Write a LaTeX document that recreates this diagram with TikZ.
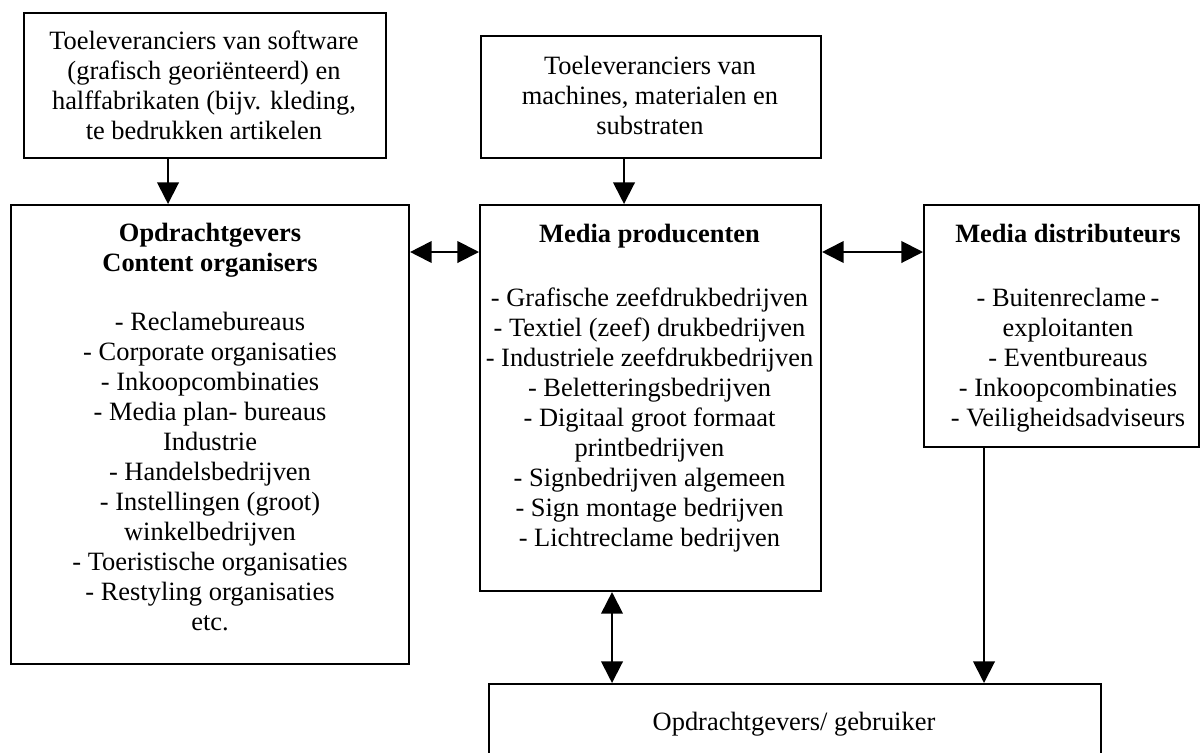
\documentclass[tikz,border=0pt]{standalone}
\usepackage{fontspec}
\setmainfont{Liberation Serif}
\usetikzlibrary{positioning,arrows.meta}

\begin{document}
\begin{tikzpicture}[x=0.025cm, y=-0.025cm,
    box/.style={draw=black, line width=1.4pt, inner sep=0pt, anchor=north west},
    boxtext/.style={anchor=north, align=center, inner sep=0pt, text=black, font=\fontsize{18.8}{21.34}\selectfont},
    link/.style={draw=black, line width=1.4pt, -{Triangle[length=0.54cm, width=0.54cm]}},
    twoway/.style={draw=black, line width=1.4pt, {Triangle[length=0.54cm, width=0.54cm]}-{Triangle[length=0.54cm, width=0.54cm]}}
]

\useasboundingbox (0,0) rectangle (1204,753);
\clip (0,0) rectangle (1204,753);

\node[box, minimum width=9.05cm, minimum height=3.625cm] (softsupply) at (23,12) {};
\node[box, minimum width=8.5cm, minimum height=3.05cm] (machsupply) at (480,35) {};
\node[box, minimum width=9.95cm, minimum height=11.475cm] (clients) at (10,204) {};
\node[box, minimum width=8.525cm, minimum height=9.65cm] (producers) at (479,204) {};
\node[box, minimum width=6.875cm, minimum height=6.05cm] (distributors) at (923,204) {};
\node[box, minimum width=15.3cm, minimum height=3cm] (users) at (488,683) {};

\node[boxtext] (softtext) at (204,30.5) {Toeleveranciers van software\\(grafisch georiënteerd) en\\halffabrikaten (bijv. kleding,\\te bedrukken artikelen};
\node[boxtext] (machtext) at (650,55.5) {Toeleveranciers van\\machines, materialen en\\substraten};

\node[boxtext] (clientstext) at (210,222.5) {\textbf{Opdrachtgevers}\\\textbf{Content organisers}\\[0.725cm]
    - Reclamebureaus\\- Corporate organisaties\\- Inkoopcombinaties\\- Media plan- bureaus\\Industrie\\- Handelsbedrijven\\
    - Instellingen (groot)\\winkelbedrijven\\- Toeristische organisaties\\- Restyling organisaties\\etc.};

\node[boxtext] (producerstext) at (649.5,223.5) {\textbf{Media producenten}\\[0.85cm]
    - Grafische zeefdrukbedrijven\\- Textiel (zeef) drukbedrijven\\- Industriele zeefdrukbedrijven\\- Beletteringsbedrijven\\
    - Digitaal groot formaat\\printbedrijven\\- Signbedrijven algemeen\\- Sign montage bedrijven\\- Lichtreclame bedrijven};

\node[boxtext] (distributorstext) at (1068,223.5) {\textbf{Media distributeurs}\\[0.85cm]
    - Buitenreclame\,-\\exploitanten\\- Eventbureaus\\- Inkoopcombinaties\\- Veiligheidsadviseurs};

\node[boxtext, anchor=base] (userstext) at (794,730) {Opdrachtgevers/ gebruiker};

\draw[link] ([xshift=-0.925cm]softsupply.south) -- ([xshift=-0.925cm]softsupply.south |- clients.north);
\draw[link] ([xshift=-0.675cm]machsupply.south) -- ([xshift=-0.675cm]machsupply.south |- producers.north);
\draw[twoway] ([yshift=-1.2cm]clients.north east) -- ([yshift=-1.2cm]clients.north east -| producers.west);
\draw[twoway] ([yshift=-1.2cm]producers.north east) -- ([yshift=-1.2cm]producers.north east -| distributors.west);
\draw[twoway] ([xshift=-0.9625cm]producers.south) -- ([xshift=-0.9625cm]producers.south |- users.north);
\draw[link] ([xshift=-1.9375cm]distributors.south) -- ([xshift=-1.9375cm]distributors.south |- users.north);

\end{tikzpicture}
\end{document}
